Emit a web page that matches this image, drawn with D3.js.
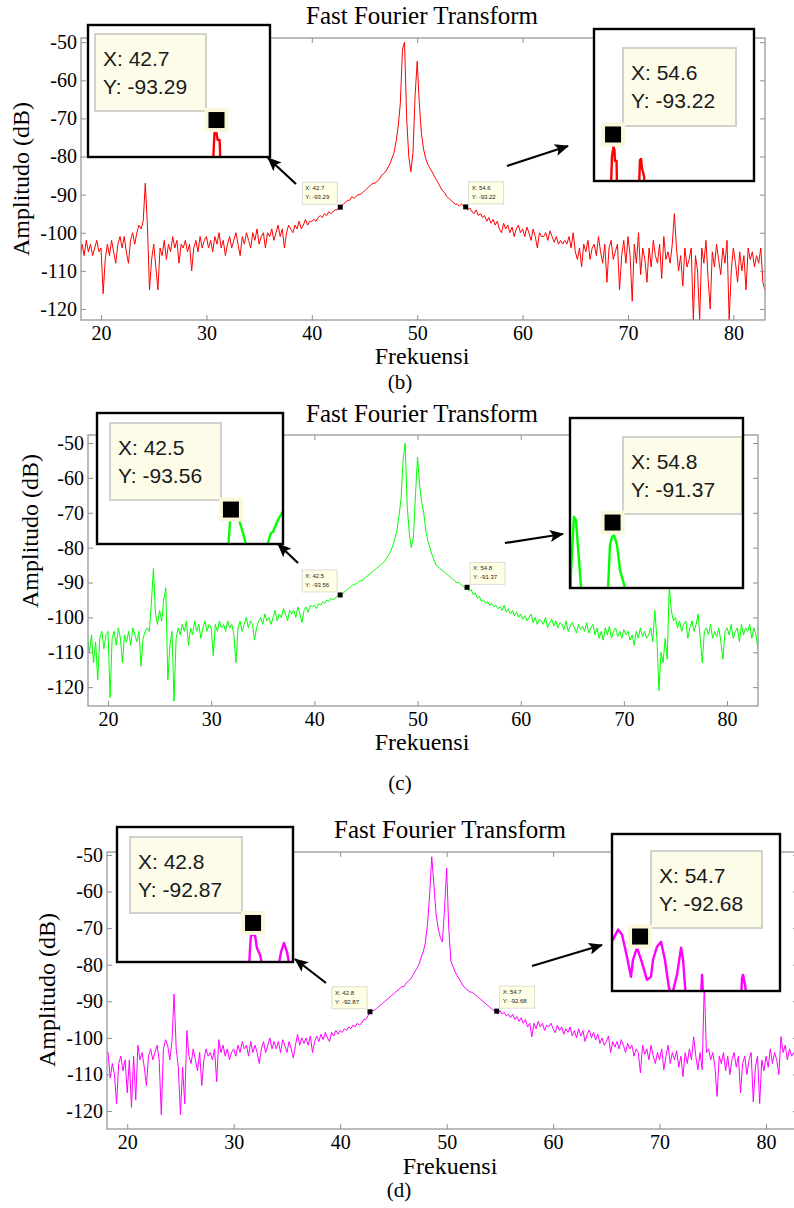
<!DOCTYPE html>
<html>
<head>
<meta charset="utf-8">
<script src="https://cdn.jsdelivr.net/npm/d3@7"></script>
<style>
body { margin: 0; background: #fff; }
svg { display: block; }
</style>
</head>
<body>
<svg id="fig" width="794" height="1208"></svg>
<script>
// frequency bins (Hz), 0.2 Hz apart from 18 to 83
const freqs = d3.range(326).map(i => Math.round((18 + i * 0.2) * 10) / 10);

// amplitude, dB
const ampB = [
  -107,-103,-106,-102,-105,-103,-106,-104,-102,-105,
  -104,-116,-107,-103,-106,-102,-105,-108,-103,-101,
  -104,-101,-105,-108,-102,-100,-103,-100,-98,-99,
  -97,-87,-98,-115,-107,-103,-109,-115,-104,-106,
  -102,-107,-103,-105,-101,-104,-102,-108,-103,-104,
  -102,-105,-103,-110,-104,-102,-105,-101,-104,-102,
  -101,-104,-102,-105,-101,-103,-100,-104,-102,-106,
  -103,-101,-104,-102,-100,-103,-106,-101,-103,-100,
  -102,-104,-100,-102,-99,-103,-101,-100,-104,-100,
  -101,-99,-102,-100,-98,-101,-99,-104,-100,-98,
  -99,-100,-98,-99,-97,-99,-98,-96.5,-98,-97,
  -97,-96.5,-97,-96,-95.5,-96,-95,-95.5,-94.5,-95,
  -94.5,-94,-94,-93.3,-93,-92.5,-92,-91.5,-91.5,-90.5,
  -91,-90.5,-90,-90,-89.5,-89,-88.5,-88,-87.5,-87,
  -87,-86.5,-86,-85,-84.5,-84,-83,-82,-80.5,-79,
  -76,-72,-66,-52,-50,-70,-80,-84,-79,-64,
  -55,-66,-74,-78,-80.5,-82,-83,-84,-85,-86,
  -87,-88,-89,-89.5,-90.5,-91,-91.5,-92,-92.5,-92.5,
  -93,-92.5,-93,-93.2,-94,-93.5,-94.5,-95,-94,-95.5,
  -95,-96,-95.5,-97,-96,-97.5,-96.5,-98,-97,-99,
  -100,-97.5,-99,-98,-100,-98.5,-101,-99,-98,-100,
  -99,-101,-98.5,-100,-102,-99,-101,-104,-100,-101,
  -101,-100,-102,-99.5,-101,-102.5,-101,-103,-102,-103,
  -102,-103,-101,-104,-100,-105,-107,-104,-109,-103,
  -105,-102,-107,-104,-103,-106,-101,-105,-108,-103,
  -113,-104,-102,-107,-105,-103,-115,-106,-102,-108,
  -101,-106,-118,-103,-108,-100,-111,-104,-107,-113,
  -104,-109,-102,-106,-108,-103,-112,-101,-107,-105,
  -108,-103,-95,-104,-110,-106,-114,-104,-109,-107,
  -104,-123,-106,-110,-123,-104,-108,-102,-112,-120,
  -105,-109,-103,-107,-111,-104,-108,-102,-123,-110,
  -104,-108,-113,-105,-110,-106,-115,-104,-107,-105,
  -109,-106,-108,-104,-113,-115
];

// amplitude, dB
const ampC = [
  -106,-110,-105,-113,-107,-118,-106,-104,-109,-105,
  -104,-123,-106,-104,-108,-103,-106,-113,-105,-107,
  -104,-108,-103,-105,-107,-104,-114,-106,-104,-103,
  -104,-96,-86,-99,-102,-98,-101,-95,-91.5,-118,
  -108,-104,-124,-106,-103,-105,-102,-104,-101,-108,
  -103,-105,-101,-104,-102,-106,-103,-101,-104,-102,
  -103,-111,-102,-104,-101,-103,-102,-104,-101,-103,
  -102,-105,-113,-103,-101,-104,-102,-100,-103,-101,
  -102,-106.5,-103,-101,-100,-102,-99,-101,-100,-102,
  -100,-98,-101,-99,-100,-97.5,-99,-101,-98,-99,
  -98,-100,-97,-99,-101.5,-98,-97,-98.5,-96.5,-97,
  -96.5,-97.5,-96,-96.5,-95.5,-96,-95,-95.5,-94.5,-95,
  -94.5,-94,-93.8,-93.6,-93,-92.5,-92,-91.5,-91,-90.5,
  -90.5,-90,-89.5,-89.5,-89,-88.5,-88,-87.5,-87,-86.5,
  -86,-85.5,-85,-84.5,-84,-83,-82,-81,-79.5,-77.5,
  -75,-71,-66,-55,-50,-68,-76,-80,-77,-65,
  -54,-62,-67,-70,-75,-78,-80,-82,-83.5,-85,
  -85.5,-86,-86.5,-87,-87.5,-88,-88.5,-89,-89.5,-90,
  -90,-90.5,-91,-91.5,-91.4,-92.5,-92,-93.5,-93,-94.5,
  -94,-95.5,-95,-96,-95.5,-96.5,-96,-97,-96.5,-97.5,
  -97,-98,-96.5,-98.5,-97.5,-99,-98,-99.5,-98.5,-100,
  -99,-100.5,-99.5,-101,-100,-99,-101.5,-100,-102,-100.5,
  -101,-102,-100,-103,-101.5,-100.5,-102.5,-101,-103,-101.5,
  -102,-103.5,-101,-104,-102.5,-101.5,-103,-104.5,-102,-103.5,
  -102.5,-104,-101.5,-104.5,-103,-102,-105,-103,-106,-104,
  -106.5,-103,-105,-102.5,-106,-104,-103,-105.5,-104,-106,
  -103.5,-105,-104,-106.5,-105,-108,-104,-106,-103,-105.5,
  -104,-106,-105,-103,-107,-98,-106,-121,-110,-113,
  -106,-112,-91,-98,-101,-100,-103,-101,-104,-102,
  -101,-106,-103,-101,-104,-102,-99,-106,-113,-104,
  -103,-105,-102,-106,-104,-105.5,-103,-107,-112,-104,
  -103,-105,-102,-106,-104,-103,-107,-102,-105,-103,
  -104,-102,-106,-103,-105,-109
];

// amplitude, dB
const ampD = [
  -104,-104,-111,-107,-110,-118,-107,-105,-109,-106,
  -115,-106,-119,-105,-117,-102,-106,-104,-108,-113,
  -105,-103,-106,-104,-102,-106,-121,-103,-100.5,-102,
  -106,-101,-88,-103,-108,-121,-108,-118,-98,-105,
  -107,-103,-106,-109,-104,-113,-106,-103,-105,-104,
  -106,-103,-112,-100.5,-104,-102,-105,-103,-106,-104,
  -103,-105,-102,-104,-101,-103,-102,-105,-101,-104,
  -102,-104,-107,-103,-101,-104,-102,-100,-103,-101,
  -103,-101,-104,-100.5,-102,-104,-101,-103,-105.5,-102,
  -99,-102,-100,-101.5,-100,-102,-99.5,-104,-101,-99.5,
  -101,-99,-100.5,-98.5,-100,-101,-98.5,-99.5,-98,-99,
  -98,-98.5,-97.5,-98,-97,-97.5,-96.5,-97,-96,-96.5,
  -96,-95,-95,-94,-93,-92.5,-92.5,-92,-91.5,-91,
  -90.5,-90,-89.5,-89,-88.5,-88,-87.5,-87,-86.5,-86,
  -86,-85,-84.5,-84,-83,-82,-81,-80,-78,-76.5,
  -74,-69,-61,-50.5,-58,-66,-70,-72.5,-73.8,-65,
  -53.6,-70,-79,-80.5,-82,-83,-84,-85,-86,-86.5,
  -87,-87.5,-87.5,-88,-88.5,-89,-89.5,-90,-90.5,-91,
  -91.5,-92,-92.5,-92.7,-93.5,-92.5,-93.5,-93,-94,-93.5,
  -94.5,-93.5,-95,-94.2,-95.5,-94.5,-96,-95,-97,-96,
  -99.7,-96,-97.5,-95.5,-97,-96,-98,-96.5,-97,-96,
  -97.5,-98.6,-96.5,-98,-97,-99,-97.5,-98.5,-97,-99.5,
  -98,-100,-97.5,-99.5,-98,-101,-99,-97.8,-100,-98.5,
  -100.5,-99,-101.5,-100,-102,-101,-99.5,-104,-101,-102.5,
  -101,-103,-100.5,-102,-104,-101.5,-103,-102,-105,-103,
  -104,-109.6,-102,-104.5,-103,-106,-102,-105,-107,-104,
  -106,-103,-108.7,-105,-102,-107,-104,-106,-103.5,-108,
  -105,-110.6,-104,-107,-103,-106,-99.7,-105,-108.7,-104,
  -108.7,-85,-104,-103,-106,-104,-108,-116,-105,-107,
  -104,-109,-105,-110,-106,-104,-108,-105,-115,-107,
  -105,-110,-106,-104,-117.5,-108,-105,-118,-106,-109,
  -105,-108,-103,-107,-104,-106,-110,-99.7,-104,-102,
  -106,-103,-105,-104,-106,-104
];

// tick labels
const xTicks = [20, 30, 40, 50, 60, 70, 80];
const yTicks = [-50, -60, -70, -80, -90, -100, -110, -120];

// data tips [frequency, dB]
const tipsB = [[42.7, -93.29], [54.6, -93.22]];
const tipsC = [[42.5, -93.56], [54.8, -91.37]];
const tipsD = [[42.8, -92.87], [54.7, -92.68]];

// magnified traces inside the zoom boxes, in percent of the box (x from left, y from bottom)
const zoomB1 = [[68.7,-5],[69.2,10],[69.5,18.2],[70.6,18.2],[71.2,13],[72.3,13],[72.8,-5]];
const zoomB2 = [[10.6,-5],[11.25,16.4],[12.2,22.4],[12.8,20.4],[13.1,13.2],[14.1,13.2],[14.4,-5],[20,-20],
                [28.1,-5],[28.75,13.8],[29.4,14.5],[30,8.6],[30.6,5.9],[31.25,3.3],[31.9,-5]];
const zoomC1 = [[70.4,-5],[71.2,10.7],[71.5,16.8],[72.6,21.4],[75.8,21.4],[76.9,16],[78.5,8.4],[80.1,0],[81,-10],
                [90,-10],[91.9,0.8],[93.5,8.4],[94.6,9.2],[97.3,18.3],[100,25.2],[102,28]];
const zoomC2 = [[0.3,-5],[0.6,9.4],[1.7,31.2],[2.3,41.8],[3.5,40],[4,32.4],[5.2,16.5],[6.4,0],[7,-10],
                [20,-10],[22,0],[23.1,25.3],[24.3,30],[25.4,31.2],[27.2,25.3],[28.9,10.6],[31.8,0],[32.5,-10]];
const zoomD1 = [[75,-5],[75.6,10.4],[76.1,20],[78.4,20],[79.5,10.4],[81.3,5.2],[83,-5],[88,-10],
                [91.5,-5],[93.2,7.4],[94.9,14.1],[96.6,7.4],[98.3,-5]];
const zoomD2 = [[-1,30],[0.6,32.7],[3.6,39.1],[6,35.9],[8.9,21.8],[11.3,9],[12.5,19.9],[14.9,27.6],[17.9,17.9],
                [20.8,7.1],[23.2,9],[24.4,19.9],[26.8,28.2],[29.2,31.4],[31.5,19.9],[33.9,1.9],[35.7,-2.6],
                [38.7,10.3],[41.1,27.6],[42.3,19.9],[44,-4.5],[49.4,-10],[53,-5],[53.6,10.3],[54.2,-5],
                [64.3,-10],[76.8,-5.8],[77.4,8.3],[78,10.3],[79.2,3.8],[80.4,-5.8],[100,-10]];
// where the data tip square sits in each zoom box (percent)
const zoomTipsB = [[70.6, 28.0], [11.9, 30.6]];
const zoomTipsC = [[72.0, 26.3], [24.6, 38.5]];
const zoomTipsD = [[77.3, 28.9], [16.7, 34.7]];

const serif = "'Liberation Serif', 'Times New Roman', serif";
const sans = "'Liberation Sans', Arial, sans-serif";
const axisGray = "#8f8f8f";

// panel layout
const panels = [
  {
    amp: ampB, color: "#ff0000", tips: tipsB, caption: "(b)",
    left: 81, right: 765, top: 38, bottom: 320,
    xDomain: [18.1, 83], yDomain: [-122.9, -48.9],
    titleX: 422, titleY: 24, xLabelX: 422, xLabelY: 364,
    yLabelX: 29, yLabelY: 179, capX: 400, capY: 389,
    zooms: [
      { box: [88, 25, 270, 157], tipBox: [95, 34, 206, 111], trace: zoomB1, at: zoomTipsB[0], tip: tipsB[0], arrow: [296, 184, 268, 158] },
      { box: [594, 29, 754, 181], tipBox: [623, 48, 736, 126], trace: zoomB2, at: zoomTipsB[1], tip: tipsB[1], arrow: [507, 166, 568, 146] }
    ]
  },
  {
    amp: ampC, color: "#00ff00", tips: tipsC, caption: "(c)",
    left: 88, right: 758, top: 435, bottom: 706,
    xDomain: [18.06, 83], yDomain: [-125.4, -47.7],
    titleX: 422, titleY: 422, xLabelX: 422, xLabelY: 750,
    yLabelX: 38, yLabelY: 531, capX: 400, capY: 790,
    zooms: [
      { box: [97, 413, 283, 544], tipBox: [110, 423, 221, 500], trace: zoomC1, at: zoomTipsC[0], tip: tipsC[0], arrow: [298, 563, 278, 544] },
      { box: [570, 418, 743, 588], tipBox: [623, 437, 742, 514], trace: zoomC2, at: zoomTipsC[1], tip: tipsC[1], arrow: [505, 543, 563, 534] }
    ]
  },
  {
    amp: ampD, color: "#ff00ff", tips: tipsD, caption: "(d)",
    left: 107, right: 798, top: 852, bottom: 1129,
    xDomain: [18.1, 83], yDomain: [-124.9, -49.2],
    titleX: 450, titleY: 838, xLabelX: 450, xLabelY: 1174,
    yLabelX: 55, yLabelY: 990, capX: 399, capY: 1197,
    zooms: [
      { box: [117, 827, 293, 962], tipBox: [130, 837, 242, 913], trace: zoomD1, at: zoomTipsD[0], tip: tipsD[0], arrow: [326, 983, 295, 959] },
      { box: [612, 834, 780, 991], tipBox: [651, 851, 762, 928], trace: zoomD2, at: zoomTipsD[1], tip: tipsD[1], arrow: [532, 966, 602, 945] }
    ]
  }
];

const svg = d3.select("#fig");

// arrow head
svg.append("defs").append("marker")
  .attr("id", "head")
  .attr("markerUnits", "userSpaceOnUse")
  .attr("viewBox", "0 0 14 12")
  .attr("refX", 13).attr("refY", 6)
  .attr("markerWidth", 14).attr("markerHeight", 12)
  .attr("orient", "auto")
  .append("path")
  .attr("d", "M0,0 L14,6 L0,12 L3,6 Z")
  .attr("fill", "#000");

function fmtTip(t) {
  return ["X: " + t[0], "Y: " + t[1].toFixed(2)];
}

panels.forEach((p, pi) => {
  const g = svg.append("g");
  const xs = d3.scaleLinear(p.xDomain, [p.left, p.right]);
  const ys = d3.scaleLinear(p.yDomain, [p.bottom, p.top]);

  // clip for the trace
  const clipId = "plot" + pi;
  svg.select("defs").append("clipPath").attr("id", clipId)
    .append("rect")
    .attr("x", p.left).attr("y", p.top)
    .attr("width", p.right - p.left).attr("height", p.bottom - p.top);

  // spectrum line
  const line = d3.line().x(d => xs(d[0])).y(d => ys(d[1]));
  g.append("path")
    .datum(freqs.map((f, i) => [f, p.amp[i]]))
    .attr("clip-path", `url(#${clipId})`)
    .attr("fill", "none")
    .attr("stroke", p.color)
    .attr("stroke-width", 1)
    .attr("stroke-linejoin", "round")
    .attr("d", line);

  // axes with inward ticks on all four sides
  const styleAxis = sel => {
    sel.select(".domain").remove();
    sel.selectAll(".tick line").attr("stroke", axisGray);
    sel.attr("font-family", serif).attr("font-size", 20);
    sel.selectAll(".tick text").attr("fill", "#000");
  };
  g.append("g").attr("transform", `translate(0,${p.bottom})`)
    .call(d3.axisBottom(xs).tickValues(xTicks).tickSize(-5).tickPadding(6).tickFormat(d => String(d)))
    .call(styleAxis);
  g.append("g").attr("transform", `translate(0,${p.top})`)
    .call(d3.axisTop(xs).tickValues(xTicks).tickSize(-5).tickFormat(""))
    .call(styleAxis);
  g.append("g").attr("transform", `translate(${p.left},0)`)
    .call(d3.axisLeft(ys).tickValues(yTicks).tickSize(-5).tickPadding(4).tickFormat(d => String(d)))
    .call(styleAxis);
  g.append("g").attr("transform", `translate(${p.right},0)`)
    .call(d3.axisRight(ys).tickValues(yTicks).tickSize(-5).tickFormat(""))
    .call(styleAxis);

  // frame
  g.append("rect")
    .attr("x", p.left).attr("y", p.top)
    .attr("width", p.right - p.left).attr("height", p.bottom - p.top)
    .attr("fill", "none").attr("stroke", axisGray).attr("stroke-width", 1.2);

  // titles
  g.append("text")
    .attr("x", p.titleX).attr("y", p.titleY)
    .attr("text-anchor", "middle")
    .attr("font-family", serif).attr("font-size", 25)
    .text("Fast Fourier Transform");
  g.append("text")
    .attr("x", p.xLabelX).attr("y", p.xLabelY)
    .attr("text-anchor", "middle")
    .attr("font-family", serif).attr("font-size", 24)
    .text("Frekuensi");
  g.append("text")
    .attr("transform", `translate(${p.yLabelX},${p.yLabelY}) rotate(-90)`)
    .attr("text-anchor", "middle")
    .attr("font-family", serif).attr("font-size", 24)
    .text("Amplitudo (dB)");
  g.append("text")
    .attr("x", p.capX).attr("y", p.capY)
    .attr("text-anchor", "middle")
    .attr("font-family", serif).attr("font-size", 21)
    .text(p.caption);

  // small data tips on the trace
  p.tips.forEach((t, k) => {
    const mx = xs(t[0]), my = ys(t[1]);
    const bx = k === 0 ? mx - 38 : mx + 3;
    g.append("rect")
      .attr("x", bx).attr("y", my - 25)
      .attr("width", 35).attr("height", 22)
      .attr("fill", "#ffffe6").attr("stroke", "#d4d4c8").attr("stroke-width", 0.8);
    g.selectAll(null).data(fmtTip(t)).join("text")
      .attr("x", bx + 3).attr("y", (d, i) => my - 17 + i * 9)
      .attr("font-family", sans).attr("font-size", 6)
      .attr("fill", "#222")
      .text(d => d);
    g.append("rect")
      .attr("x", mx - 2.5).attr("y", my - 2.5)
      .attr("width", 5).attr("height", 5)
      .attr("fill", "#000");
  });

  // zoom boxes and arrows
  p.zooms.forEach((z, k) => {
    const [x0, y0, x1, y1] = z.box;
    const zx = d3.scaleLinear([0, 100], [x0, x1]);
    const zy = d3.scaleLinear([0, 100], [y1, y0]);
    const zid = `zoom${pi}_${k}`;
    svg.select("defs").append("clipPath").attr("id", zid)
      .append("rect").attr("x", x0).attr("y", y0).attr("width", x1 - x0).attr("height", y1 - y0);

    const zg = g.append("g");
    zg.append("rect")
      .attr("x", x0).attr("y", y0).attr("width", x1 - x0).attr("height", y1 - y0)
      .attr("fill", "#fff");
    zg.append("path")
      .datum(z.trace)
      .attr("clip-path", `url(#${zid})`)
      .attr("fill", "none")
      .attr("stroke", p.color)
      .attr("stroke-width", 2.4)
      .attr("stroke-linejoin", "round")
      .attr("d", d3.line().x(d => zx(d[0])).y(d => zy(d[1])));

    // big tip box
    const [tx0, ty0, tx1, ty1] = z.tipBox;
    zg.append("rect")
      .attr("x", tx0).attr("y", ty0).attr("width", tx1 - tx0).attr("height", ty1 - ty0)
      .attr("fill", "#fcfce9").attr("stroke", "#d2d2cc").attr("stroke-width", 2);
    zg.selectAll(null).data(fmtTip(z.tip)).join("text")
      .attr("x", tx0 + 8).attr("y", (d, i) => ty0 + 31.5 + i * 28)
      .attr("font-family", sans).attr("font-size", 21)
      .attr("fill", "#1a1a1a")
      .text(d => d);

    // marker square
    const sx = zx(z.at[0]), sy = zy(z.at[1]);
    zg.append("rect")
      .attr("x", sx - 12).attr("y", sy - 12).attr("width", 24).attr("height", 24)
      .attr("fill", "#fbf7da");
    zg.append("rect")
      .attr("x", sx - 8).attr("y", sy - 8).attr("width", 16).attr("height", 16)
      .attr("fill", "#000");

    zg.append("rect")
      .attr("x", x0).attr("y", y0).attr("width", x1 - x0).attr("height", y1 - y0)
      .attr("fill", "none").attr("stroke", "#000").attr("stroke-width", 2.4);

    const [ax0, ay0, ax1, ay1] = z.arrow;
    zg.append("line")
      .attr("x1", ax0).attr("y1", ay0).attr("x2", ax1).attr("y2", ay1)
      .attr("stroke", "#000").attr("stroke-width", 2.2)
      .attr("marker-end", "url(#head)");
  });
});
</script>
</body>
</html>
